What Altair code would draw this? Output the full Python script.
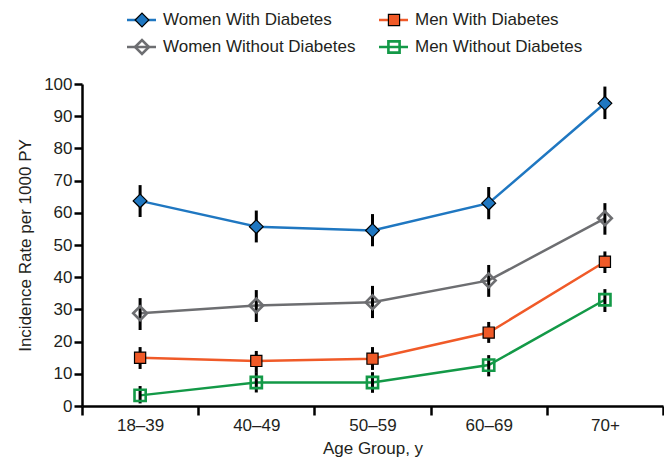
import altair as alt
import pandas as pd

age_groups = ["18–39", "40–49", "50–59", "60–69", "70+"]
series_names = ["Women With Diabetes", "Men With Diabetes",
                "Women Without Diabetes", "Men Without Diabetes"]

women_dm = [63.7, 55.7, 54.5, 63.0, 94.0]
women_dm_lo = [58.7, 50.8, 49.6, 58.0, 89.1]
women_dm_hi = [68.6, 60.7, 59.6, 68.0, 99.2]

men_dm = [15.0, 14.0, 14.7, 22.8, 44.8]
men_dm_lo = [11.5, 10.3, 11.2, 19.6, 41.3]
men_dm_hi = [18.3, 17.1, 18.3, 26.1, 48.0]

women_nodm = [28.8, 31.2, 32.2, 39.0, 58.3]
women_nodm_lo = [23.6, 26.1, 27.3, 33.9, 53.2]
women_nodm_hi = [33.5, 36.0, 37.3, 43.8, 63.0]

men_nodm = [3.3, 7.3, 7.3, 12.7, 33.0]
men_nodm_lo = [0.8, 4.2, 4.1, 9.2, 29.2]
men_nodm_hi = [6.2, 10.4, 10.5, 15.8, 36.3]

y_ticks = [0, 10, 20, 30, 40, 50, 60, 70, 80, 90, 100]

colors = ["#1f77c1", "#f05a28", "#6d6e71", "#139947"]
shapes = ["diamond", "square", "diamond", "square"]
filled = [True, True, False, False]
sizes = [190, 125, 190, 125]
legend_col = [0, 1, 0, 1]
legend_row = [0, 0, 1, 1]

vals = [women_dm, men_dm, women_nodm, men_nodm]
los = [women_dm_lo, men_dm_lo, women_nodm_lo, men_nodm_lo]
his = [women_dm_hi, men_dm_hi, women_nodm_hi, men_nodm_hi]

rows = []
for s, v, lo, hi in zip(series_names, vals, los, his):
    for a, r, l, h in zip(age_groups, v, lo, hi):
        rows.append({"series": s, "age": a, "rate": r, "lo": l, "hi": h})
df = pd.DataFrame(rows)

leg = pd.DataFrame({"series": series_names, "col": legend_col, "row": legend_row})

FONT = "Liberation Sans"
color_scale = alt.Scale(domain=series_names, range=colors)

X = alt.X("age:N", sort=age_groups,
          scale=alt.Scale(paddingInner=0, paddingOuter=0),
          axis=alt.Axis(title="Age Group, y", labelAngle=0, tickBand="extent",
                        tickSize=9, labelPadding=2, titlePadding=7))
y_scale = alt.Scale(domain=[0, 100], nice=False)
y_axis = alt.Axis(title="Incidence Rate per 1000 PY", values=y_ticks, tickSize=8,
                  labelPadding=2, titlePadding=9, labelOverlap=False)

base = alt.Chart(df)
lines = base.mark_line(strokeWidth=2.5).encode(
    x=X, y=alt.Y("rate:Q", scale=y_scale, axis=y_axis),
    color=alt.Color("series:N", scale=color_scale, legend=None),
    detail="series:N")
errs = base.mark_rule(color="black", strokeWidth=3).encode(
    x=X, y=alt.Y("lo:Q", scale=y_scale, axis=y_axis), y2="hi:Q", detail="series:N")

point_layers = []
legend_points = []
for s, c, sh, f, sz in zip(series_names, colors, shapes, filled, sizes):
    if f:
        props = dict(shape=sh, size=sz, filled=True, fill=c, stroke="black",
                     strokeWidth=1.2, opacity=1)
    else:
        props = dict(shape=sh, size=sz, filled=False, stroke=c,
                     strokeWidth=2.6, opacity=1)
    point_layers.append(
        base.transform_filter(alt.datum.series == s).mark_point(**props).encode(
            x=X, y=alt.Y("rate:Q", scale=y_scale, axis=y_axis)))
    legend_points.append((s, props))

main = alt.layer(lines, errs, *point_layers)

LX = alt.X("col:Q", scale=alt.Scale(domain=[0, 1], range=[60, 312]), axis=None)
LY = alt.Y("row:Q", scale=alt.Scale(domain=[0, 1], range=[-64, -37]), axis=None)
lbase = alt.Chart(leg)
stubs = lbase.mark_rule(strokeWidth=2.5, xOffset=-15, x2Offset=14).encode(
    x=LX, x2="col:Q", y=LY,
    color=alt.Color("series:N", scale=color_scale, legend=None))
lpts = [lbase.transform_filter(alt.datum.series == s).mark_point(**p).encode(x=LX, y=LY)
        for s, p in legend_points]
ltext = lbase.mark_text(align="left", baseline="middle", dx=21, fontSize=17,
                        font=FONT, color="#231f20").encode(x=LX, y=LY, text="series:N")
legend = alt.layer(stubs, *lpts, ltext)

chart = alt.layer(main, legend).resolve_scale(
    x="independent", y="independent"
).properties(
    width=581, height=322,
    autosize=alt.AutoSizeParams(type="none"),
    padding={"left": 74, "top": 76, "right": 1, "bottom": 52}
).configure_view(stroke=None).configure_axis(
    grid=False, domainColor="black", domainWidth=2.5, tickColor="black",
    tickWidth=2.5, labelFont=FONT, labelFontSize=17, labelColor="#231f20",
    titleFont=FONT, titleFontSize=17, titleFontWeight="normal", titleColor="#231f20"
)

chart.save("out.html", embed_options={"renderer": "svg", "actions": False})
